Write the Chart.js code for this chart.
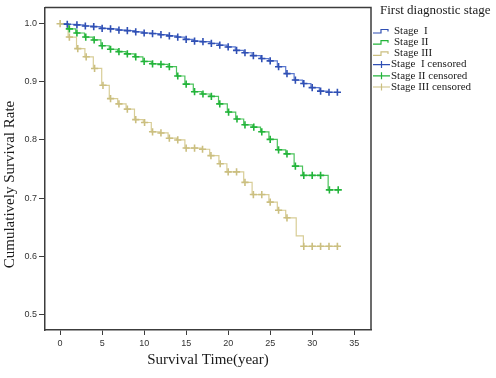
<!DOCTYPE html>
<html>
<head>
<meta charset="utf-8">
<script src="https://cdn.jsdelivr.net/npm/chart.js@4/dist/chart.umd.min.js"></script>
<style>
  html, body { margin: 0; padding: 0; background: #ffffff; }
  #wrap { position: relative; width: 496px; height: 378px; }
</style>
</head>
<body>
<div id="wrap"><canvas id="c" width="496" height="378"></canvas></div>
<script>
// ---- Data ----
const xTicks = [0, 5, 10, 15, 20, 25, 30, 35];
const yTicks = [0.5, 0.6, 0.7, 0.8, 0.9, 1.0];

const seriesNames = ['Stage  I', 'Stage II', 'Stage III'];
const censorNames = ['Stage  I censored', 'Stage II censored', 'Stage III censored'];
const legendTitle = 'First diagnostic stage';
const xTitle = 'Survival Time(year)';
const yTitle = 'Cumulatively Survival Rate';

// Stage I : step curve (event time, survival after the event)
const stage1StepT = [0, 0.7, 1.85, 2.85, 3.85, 4.85, 5.85, 6.85, 7.85, 8.85, 9.85, 10.85, 11.85, 12.85, 13.85, 14.85, 15.85, 16.85, 17.85, 18.85, 19.85, 20.85, 21.85, 22.85, 23.85, 24.85, 25.85, 26.85, 27.85, 28.85, 29.85, 30.85, 31.85, 33.1];
const stage1StepS = [1.0, 0.999, 0.998, 0.996, 0.995, 0.992, 0.991, 0.989, 0.988, 0.986, 0.984, 0.983, 0.981, 0.979, 0.977, 0.973, 0.970, 0.969, 0.966, 0.963, 0.960, 0.954, 0.950, 0.945, 0.940, 0.936, 0.926, 0.914, 0.903, 0.897, 0.890, 0.884, 0.882, 0.882];
const stage1CensT = [0.85, 2, 3, 4, 5, 6, 7, 8, 9, 10, 11, 12, 13, 14, 15, 16, 17, 18, 19, 20, 21, 22, 23, 24, 25, 26, 27, 28, 29, 30, 31, 32, 33];
const stage1CensS = [0.999, 0.998, 0.996, 0.995, 0.992, 0.991, 0.989, 0.988, 0.986, 0.984, 0.983, 0.981, 0.979, 0.977, 0.973, 0.970, 0.969, 0.966, 0.963, 0.960, 0.954, 0.950, 0.945, 0.940, 0.936, 0.926, 0.914, 0.903, 0.897, 0.890, 0.884, 0.882, 0.882];

// Stage II
const stage2StepT = [0, 0.95, 1.85, 2.9, 3.9, 4.85, 5.85, 6.85, 7.85, 8.85, 9.85, 10.85, 11.85, 12.85, 13.85, 14.85, 15.85, 16.85, 17.85, 18.85, 19.9, 20.9, 21.85, 22.9, 23.85, 24.85, 25.85, 26.85, 27.85, 28.85, 31.9, 33.2];
const stage2StepS = [1.0, 0.991, 0.984, 0.977, 0.972, 0.962, 0.956, 0.952, 0.948, 0.943, 0.935, 0.931, 0.930, 0.926, 0.910, 0.896, 0.883, 0.879, 0.875, 0.862, 0.848, 0.836, 0.826, 0.822, 0.814, 0.801, 0.783, 0.776, 0.755, 0.739, 0.714, 0.714];
const stage2CensT = [1.1, 2, 3.05, 4.05, 5, 6, 7, 8, 9, 10, 11, 12, 13, 14, 15, 16, 17, 18, 19, 20.05, 21.05, 22, 23.05, 24, 25, 26, 27, 28, 29, 30, 31, 32.05, 33.1];
const stage2CensS = [0.991, 0.984, 0.977, 0.972, 0.962, 0.956, 0.952, 0.948, 0.943, 0.935, 0.931, 0.930, 0.926, 0.910, 0.896, 0.883, 0.879, 0.875, 0.862, 0.848, 0.836, 0.826, 0.822, 0.814, 0.801, 0.783, 0.776, 0.755, 0.739, 0.739, 0.739, 0.714, 0.714];

// Stage III
const stage3StepT = [0, 0.95, 1.95, 2.95, 3.95, 4.95, 5.85, 6.85, 7.85, 8.85, 9.9, 10.85, 11.85, 12.85, 13.85, 14.85, 16.8, 17.8, 18.9, 19.85, 21.85, 22.85, 24.85, 25.85, 26.85, 28.1, 28.95, 33.2];
const stage3StepS = [1.0, 0.977, 0.957, 0.943, 0.923, 0.894, 0.871, 0.862, 0.853, 0.835, 0.830, 0.814, 0.812, 0.803, 0.800, 0.786, 0.784, 0.773, 0.759, 0.745, 0.727, 0.706, 0.693, 0.679, 0.666, 0.635, 0.617, 0.617];
const stage3CensT = [0, 1.1, 2.1, 3.1, 4.1, 5.1, 6, 7, 8, 9, 10.05, 11, 12, 13, 14, 15, 16, 16.95, 17.95, 19.05, 20, 21, 22, 23, 24, 25, 26, 27, 29, 30, 31, 32, 33];
const stage3CensS = [1.0, 0.977, 0.957, 0.943, 0.923, 0.894, 0.871, 0.862, 0.853, 0.835, 0.830, 0.814, 0.812, 0.803, 0.800, 0.786, 0.786, 0.784, 0.773, 0.759, 0.745, 0.745, 0.727, 0.706, 0.706, 0.693, 0.679, 0.666, 0.617, 0.617, 0.617, 0.617, 0.617];

// ---- Styles ----
const lineColors = ['#5a78cf', '#4cc35c', '#d8cd96'];
const markColors = ['#2f4fb4', '#22b43a', '#cbbf80'];
const frameColor = '#3c3c3c';

function pts(t, s) { return t.map((v, i) => ({ x: v, y: s[i] })); }

const stepSets = [[stage1StepT, stage1StepS], [stage2StepT, stage2StepS], [stage3StepT, stage3StepS]];
const censSets = [[stage1CensT, stage1CensS], [stage2CensT, stage2CensS], [stage3CensT, stage3CensS]];

const datasets = [];
stepSets.forEach((d, i) => {
  datasets.push({
    label: seriesNames[i], data: pts(d[0], d[1]), stepped: 'before',
    borderColor: lineColors[i], borderWidth: 1.2, pointRadius: 0, fill: false, order: 2
  });
});
censSets.forEach((d, i) => {
  datasets.push({
    label: censorNames[i], data: pts(d[0], d[1]), showLine: false,
    pointStyle: 'cross', pointRadius: 3.6, borderColor: markColors[i],
    backgroundColor: markColors[i], pointBorderWidth: 1.6, order: 1
  });
});

const decor = {
  id: 'decor',
  afterDraw(chart) {
    const ctx = chart.ctx, a = chart.chartArea;
    ctx.save();
    // top and right frame lines
    ctx.strokeStyle = frameColor; ctx.lineWidth = 1.5;
    ctx.beginPath();
    ctx.moveTo(a.left, a.top); ctx.lineTo(a.right, a.top); ctx.lineTo(a.right, a.bottom);
    ctx.stroke();
    // y-axis title
    ctx.fillStyle = '#1a1a1a';
    ctx.font = '15px "Liberation Serif"';
    ctx.textAlign = 'center'; ctx.textBaseline = 'middle';
    ctx.translate(10, 184.5); ctx.rotate(-Math.PI / 2);
    ctx.fillText(yTitle, 0, 0);
    ctx.restore();

    // legend
    ctx.save();
    ctx.fillStyle = '#1a1a1a';
    ctx.textAlign = 'left'; ctx.textBaseline = 'middle';
    ctx.font = '13px "Liberation Serif"';
    ctx.fillText(legendTitle, 380, 10.5);
    ctx.font = '11px "Liberation Serif"';
    const y0 = 31, dy = 11.2;
    for (let i = 0; i < 3; i++) {
      const y = y0 + dy * i;
      ctx.strokeStyle = markColors[i]; ctx.lineWidth = 1.2;
      ctx.beginPath();
      ctx.moveTo(373, y + 2); ctx.lineTo(381, y + 2); ctx.lineTo(381, y - 1.5);
      ctx.lineTo(388, y - 1.5); ctx.lineTo(388, y + 0.5);
      ctx.stroke();
      ctx.fillText(seriesNames[i], 394, y);
    }
    for (let i = 0; i < 3; i++) {
      const y = y0 + dy * (i + 3);
      ctx.strokeStyle = markColors[i]; ctx.lineWidth = 1.2;
      ctx.beginPath();
      ctx.moveTo(373, y); ctx.lineTo(390, y);
      ctx.moveTo(381.5, y - 3.5); ctx.lineTo(381.5, y + 3.5);
      ctx.stroke();
      ctx.fillText(censorNames[i], 391, y);
    }
    ctx.restore();
  }
};

new Chart(document.getElementById('c'), {
  type: 'line',
  data: { datasets },
  options: {
    responsive: false, animation: false,
    layout: { padding: { top: 3, right: 125, left: 0, bottom: 0 } },
    plugins: { legend: { display: false }, tooltip: { enabled: false } },
    scales: {
      x: {
        type: 'linear', min: -1.8, max: 37.0,
        afterBuildTicks: s => { s.ticks = xTicks.map(v => ({ value: v })); },
        afterFit: s => { s.height = 48; },
        grid: { drawOnChartArea: false, drawTicks: true, tickLength: 5, color: frameColor, lineWidth: 1 },
        border: { color: frameColor, width: 1.5 },
        ticks: { font: { family: 'Liberation Sans', size: 9 }, color: '#333', padding: 3, maxRotation: 0, autoSkip: false },
        title: { display: true, text: xTitle, color: '#1a1a1a', font: { family: 'Liberation Serif', size: 15 }, padding: { top: 0, bottom: 9 } }
      },
      y: {
        type: 'linear', min: 0.473, max: 1.028,
        afterBuildTicks: s => { s.ticks = yTicks.map(v => ({ value: v })); },
        afterFit: s => { s.width = 45; },
        grid: { drawOnChartArea: false, drawTicks: true, tickLength: 6, color: frameColor, lineWidth: 1 },
        border: { color: frameColor, width: 1.5 },
        ticks: { font: { family: 'Liberation Sans', size: 9 }, color: '#333', padding: 2, autoSkip: false, callback: v => Number(v).toFixed(1) }
      }
    }
  },
  plugins: [decor]
});
</script>
</body>
</html>
